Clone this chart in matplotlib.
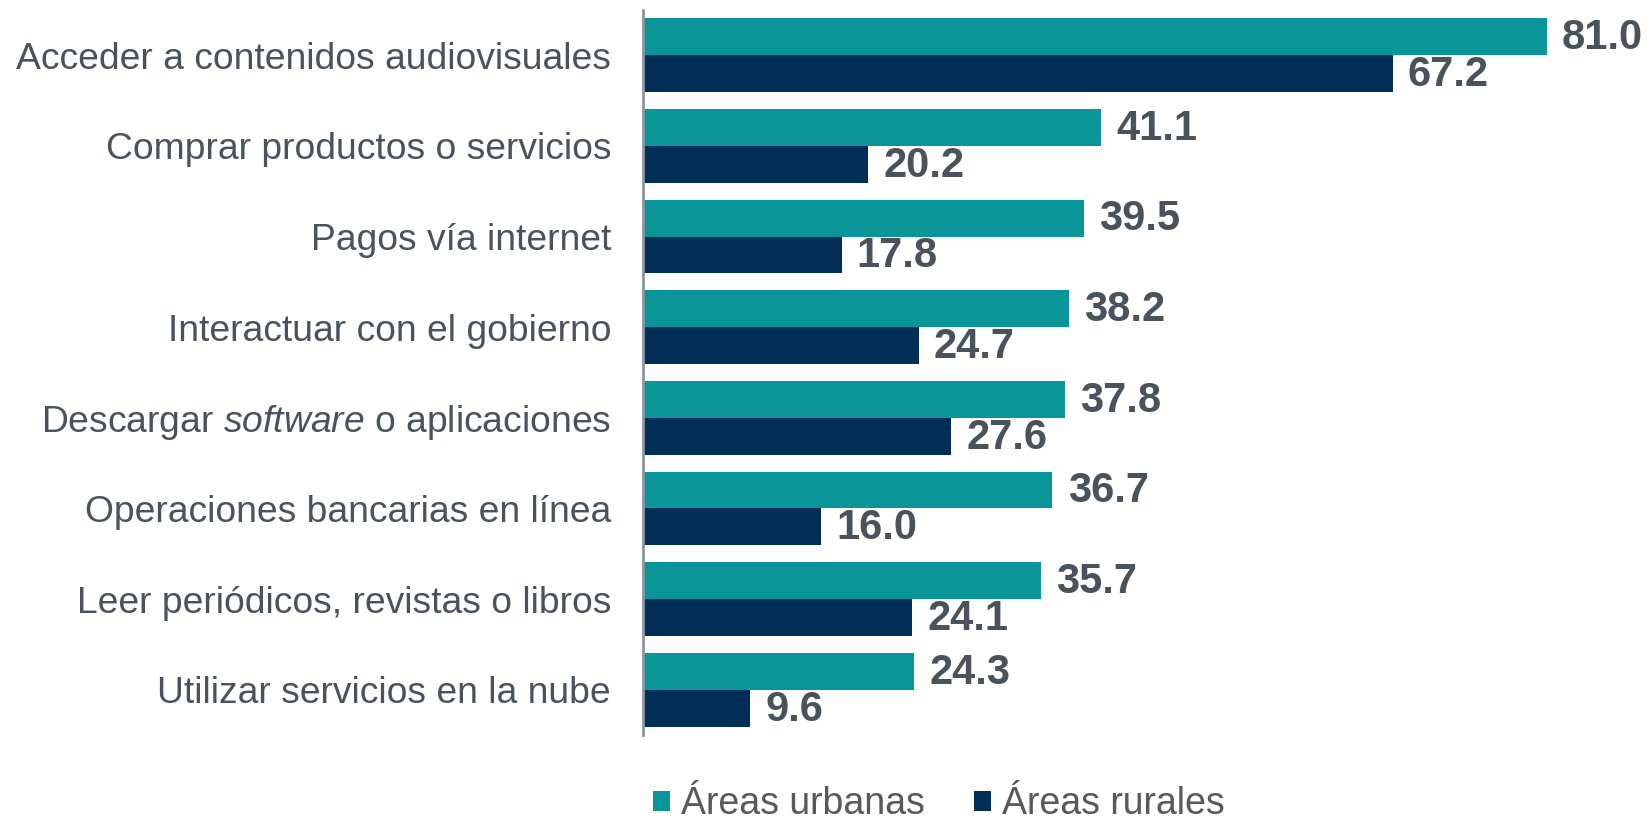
import matplotlib
matplotlib.use("Agg")
import matplotlib.pyplot as plt
import numpy as np

categorias = [
    "Acceder a contenidos audiovisuales",
    "Comprar productos o servicios",
    "Pagos vía internet",
    "Interactuar con el gobierno",
    "Descargar $\\mathit{software}$ o aplicaciones",
    "Operaciones bancarias en línea",
    "Leer periódicos, revistas o libros",
    "Utilizar servicios en la nube",
]
urbanas = [81.0, 41.1, 39.5, 38.2, 37.8, 36.7, 35.7, 24.3]
rurales = [67.2, 20.2, 17.8, 24.7, 27.6, 16.0, 24.1, 9.6]

plt.rcParams["font.family"] = ["Liberation Sans", "DejaVu Sans"]
plt.rcParams["mathtext.fontset"] = "custom"
plt.rcParams["mathtext.rm"] = "Liberation Sans"
plt.rcParams["mathtext.it"] = "Liberation Sans:italic"

c_urb = "#0A9699"
c_rur = "#002E57"
c_txt = "#4A525C"

fig = plt.figure(figsize=(16.47, 8.31), dpi=100)
ax = fig.add_axes([0.3904, 0.1155, 0.6096, 0.8725])

y = np.arange(len(categorias))
h = 0.407
b1 = ax.barh(y - h / 2, urbanas, height=h, color=c_urb, label="Áreas urbanas")
b2 = ax.barh(y + h / 2, rurales, height=h, color=c_rur, label="Áreas rurales")

for bars, vals in [(b1, urbanas), (b2, rurales)]:
    for rect, v in zip(bars, vals):
        ax.annotate(f"{v:.1f}", (v, rect.get_y() + rect.get_height() / 2),
                    xytext=(11, -1), textcoords="offset points",
                    va="center", ha="left", fontsize=30, fontweight="bold",
                    color=c_txt)

ax.set_xlim(0, 90)
ax.set_ylim(len(categorias) - 0.5, -0.5)
ax.set_yticks(y)
ax.set_yticklabels(categorias, fontsize=26.8, color=c_txt)
ax.tick_params(axis="y", length=0, pad=23)
ax.set_xticks([])
for s in ["top", "right", "bottom"]:
    ax.spines[s].set_visible(False)
ax.spines["left"].set_color("#8C96A0")
ax.spines["left"].set_linewidth(2)

leg = fig.legend(handles=[b1, b2], loc="lower center", ncol=2,
                 bbox_to_anchor=(0.57, -0.03), frameon=False,
                 fontsize=27, handlelength=0.45, handleheight=0.45,
                 handletextpad=0.3, columnspacing=1.3)
for t in leg.get_texts():
    t.set_color("#595959")

fig.savefig("out.png", dpi=100)
